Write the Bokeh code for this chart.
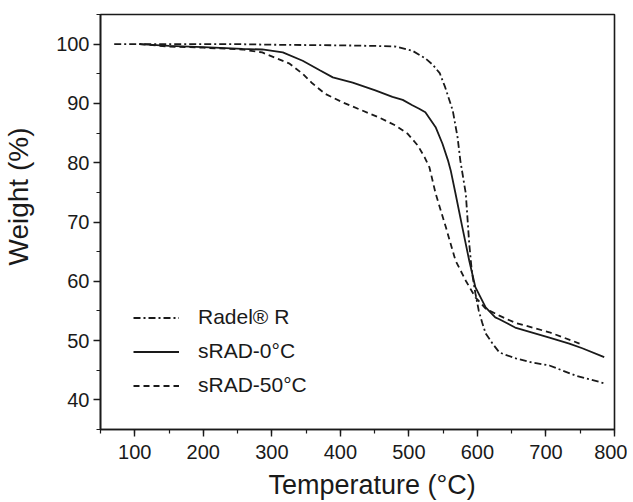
from bokeh.plotting import figure
from bokeh.models import (Range1d, SingleIntervalTicker, Legend, LegendItem, Title)
from bokeh.embed import file_html
from bokeh.resources import INLINE

# ---------------- data ----------------
radel_T = [70, 150, 250, 300, 400, 450, 480, 505, 524, 535, 545, 553, 564, 571, 575,
           583, 588, 592, 597, 602, 607, 612, 622, 632, 641, 656, 680, 705, 743, 785]
radel_W = [100.0, 100.0, 100.0, 99.9, 99.8, 99.7, 99.6, 98.9, 97.6, 96.5, 95.1, 92.7, 88.8, 84.3, 80.4,
           74.8, 66.4, 61.5, 58.0, 55.0, 53.0, 51.2, 49.5, 48.0, 47.6, 47.0, 46.3, 45.8, 44.1, 42.8]

s0_T = [107, 150, 200, 257, 286, 316, 345, 370, 389, 418, 451, 476, 491, 505, 515, 524,
        539, 549, 557, 561, 568, 578, 588, 597, 612, 626, 632, 655, 705, 734, 753, 785]
s0_W = [100.0, 99.7, 99.5, 99.2, 99.1, 98.6, 97.2, 95.6, 94.4, 93.5, 92.2, 91.1, 90.6, 89.7, 89.1, 88.5,
        86.0, 83.2, 80.4, 78.7, 74.8, 69.1, 63.5, 59.0, 55.6, 53.9, 53.6, 52.2, 50.5, 49.5, 48.7, 47.2]

s50_T = [107, 150, 200, 257, 286, 305, 326, 345, 359, 378, 403, 432, 457, 480, 498, 513,
         523, 530, 539, 554, 568, 583, 597, 612, 632, 655, 705, 749]
s50_W = [100.0, 99.6, 99.4, 99.1, 98.6, 97.7, 96.7, 95.0, 93.4, 91.6, 90.2, 88.8, 87.6, 86.3, 84.9, 82.9,
         80.9, 79.2, 74.8, 69.1, 63.5, 60.1, 57.3, 55.4, 54.2, 53.0, 51.4, 49.5]

series_names = ["Radel\u00ae R", "sRAD-0\u00b0C", "sRAD-50\u00b0C"]
x_title = "Temperature (\u00b0C)"
y_title = "Weight (%)"

FONT = "Liberation Sans"
INK = "#1a1a1a"

p = figure(frame_width=514, frame_height=415, output_backend="svg", toolbar_location=None,
           x_range=Range1d(50, 800), y_range=Range1d(35, 105),
           min_border_left=98, min_border_right=13, min_border_top=14, min_border_bottom=71)
p.background_fill_color = "white"
p.border_fill_color = "white"
p.outline_line_color = INK
p.outline_line_width = 1.6
p.grid.visible = False

p.xaxis.ticker = SingleIntervalTicker(interval=100, num_minor_ticks=2)
p.yaxis.ticker = SingleIntervalTicker(interval=10, num_minor_ticks=2)
for ax in (p.xaxis[0], p.yaxis[0]):
    ax.axis_line_color = INK
    ax.axis_line_width = 1.6
    ax.major_tick_line_color = INK
    ax.major_tick_line_width = 1.4
    ax.minor_tick_line_color = INK
    ax.minor_tick_line_width = 1.2
    ax.major_tick_in = 0
    ax.major_tick_out = 7
    ax.minor_tick_in = 0
    ax.minor_tick_out = 4
    ax.major_label_text_font = FONT
    ax.major_label_text_font_size = "20px"
    ax.major_label_text_color = INK
    # thin blank label used only as spacing between tick labels and the title
    ax.axis_label = " "
    ax.axis_label_text_font_size = "1px"
p.xaxis.major_label_standoff = 8
p.yaxis.major_label_standoff = 4
p.xaxis.axis_label_standoff = 2
p.yaxis.axis_label_standoff = 16

r1 = p.line(radel_T, radel_W, line_color=INK, line_width=1.8, line_dash="7 3 2 3")
r2 = p.line(s0_T, s0_W, line_color=INK, line_width=1.8)
r3 = p.line(s50_T, s50_W, line_color=INK, line_width=1.8, line_dash="6 4")

legend = Legend(items=[LegendItem(label=series_names[0], renderers=[r1]),
                       LegendItem(label=series_names[1], renderers=[r2]),
                       LegendItem(label=series_names[2], renderers=[r3])],
                location=(33, 32), padding=0, margin=0, spacing=10,
                glyph_width=46, glyph_height=23, label_height=23, label_standoff=19,
                label_text_font=FONT, label_text_font_size="21px", label_text_color=INK,
                border_line_color=None, background_fill_alpha=0)
p.add_layout(legend, "center")

p.add_layout(Title(text=x_title, align="left", offset=168, standoff=0,
                   text_font=FONT, text_font_size="27px", text_font_style="normal",
                   text_color=INK), "below")
p.add_layout(Title(text=y_title, align="left", offset=164, standoff=0,
                   text_font=FONT, text_font_size="28px", text_font_style="normal",
                   text_color=INK), "left")

open("out.html", "w").write(file_html(p, INLINE))
